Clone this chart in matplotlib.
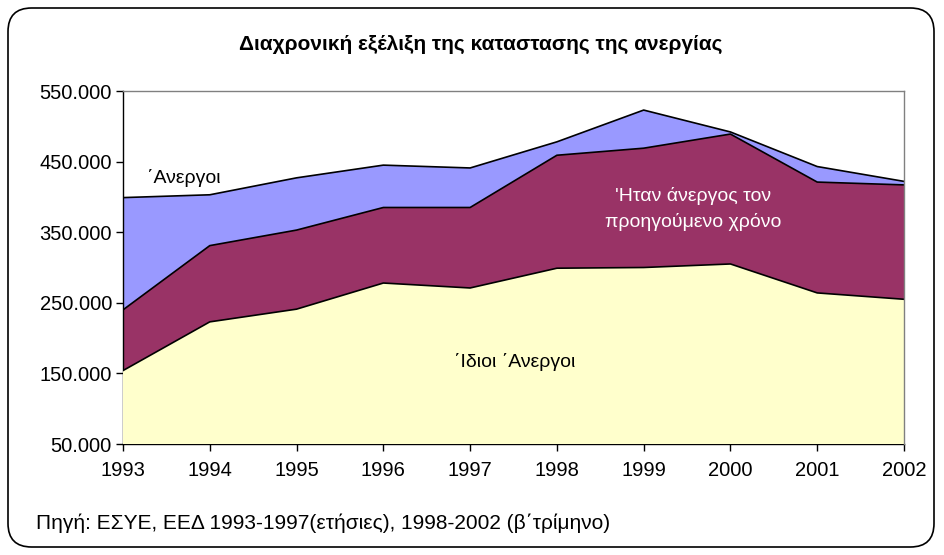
import matplotlib
matplotlib.use("Agg")
import matplotlib.pyplot as plt
from matplotlib.patches import FancyBboxPatch
from matplotlib.ticker import FuncFormatter

plt.rcParams['font.family'] = ['Liberation Sans', 'DejaVu Sans']

years = [1993, 1994, 1995, 1996, 1997, 1998, 1999, 2000, 2001, 2002]
# Cumulative levels
idioi = [154000, 223000, 241000, 278000, 271000, 299000, 300000, 305000, 264000, 255000]
itan = [240000, 331000, 353000, 385000, 385000, 459000, 469000, 489000, 421000, 417000]
anergoi = [399000, 403000, 427000, 445000, 441000, 478000, 523000, 492000, 443000, 422000]
yticks = [50000, 150000, 250000, 350000, 450000, 550000]

title = "Διαχρονική εξέλιξη της καταστασης της ανεργίας"
source = "Πηγή: ΕΣΥΕ, ΕΕΔ 1993-1997(ετήσιες), 1998-2002 (β\u0384τρίμηνο)"

fig = plt.figure(figsize=(9.44, 5.55), dpi=100)
fig.patch.set_facecolor('white')

border = FancyBboxPatch((8/944, 8/555), 926/944, 1 - 16/555,
                        boxstyle="round,pad=0,rounding_size=0.025",
                        transform=fig.transFigure, fill=False,
                        edgecolor='black', linewidth=1.2, mutation_aspect=944/555)
fig.patches.append(border)

ax = fig.add_axes([123/944, 1 - 444/555, (904 - 123)/944, (444 - 91)/555])

base = 0
ax.fill_between(years, base, anergoi, facecolor='#9999FF', edgecolor='none', zorder=1)
ax.fill_between(years, base, itan, facecolor='#993366', edgecolor='none', zorder=2)
ax.fill_between(years, base, idioi, facecolor='#FFFFCC', edgecolor='none', zorder=3)
ax.plot(years, anergoi, color='black', lw=1.2, zorder=4)
ax.plot(years, itan, color='black', lw=1.2, zorder=4)
ax.plot(years, idioi, color='black', lw=1.2, zorder=4)

ax.set_xlim(years[0], years[-1])
ax.set_ylim(yticks[0], yticks[-1])
ax.set_yticks(yticks)
ax.yaxis.set_major_formatter(FuncFormatter(lambda v, p: f"{int(v):,}".replace(",", ".")))
ax.set_xticks(years)
ax.set_xticklabels([str(y) for y in years])
ax.tick_params(axis='both', direction='out', length=5, width=1, labelsize=14.5, colors='black')
ax.tick_params(axis='x', pad=7)
ax.tick_params(axis='y', pad=3)

for s in ['top', 'right']:
    ax.spines[s].set_color('#808080')
    ax.spines[s].set_linewidth(1)
for s in ['left', 'bottom']:
    ax.spines[s].set_color('black')
    ax.spines[s].set_linewidth(1)
ax.spines['right'].set_zorder(5)

ax.text(1993.28, 427000, "\u0384Ανεργοι", fontsize=14, color='black', ha='left', va='center', zorder=6)
ax.text(1999.57, 383000, "'Ηταν άνεργος τον\nπροηγούμενο χρόνο", fontsize=14, color='white',
        ha='center', va='center', linespacing=1.55, zorder=6)
ax.text(1997.51, 166000, "\u0384Ιδιοι \u0384Ανεργοι", fontsize=14, color='black',
        ha='center', va='center', zorder=6)

fig.text(481/944, 1 - 44/555, title, fontsize=15, fontweight='bold', ha='center', va='center')
fig.text(36/944, 1 - 523/555, source, fontsize=15, ha='left', va='center')

fig.savefig("out.png", dpi=100)
